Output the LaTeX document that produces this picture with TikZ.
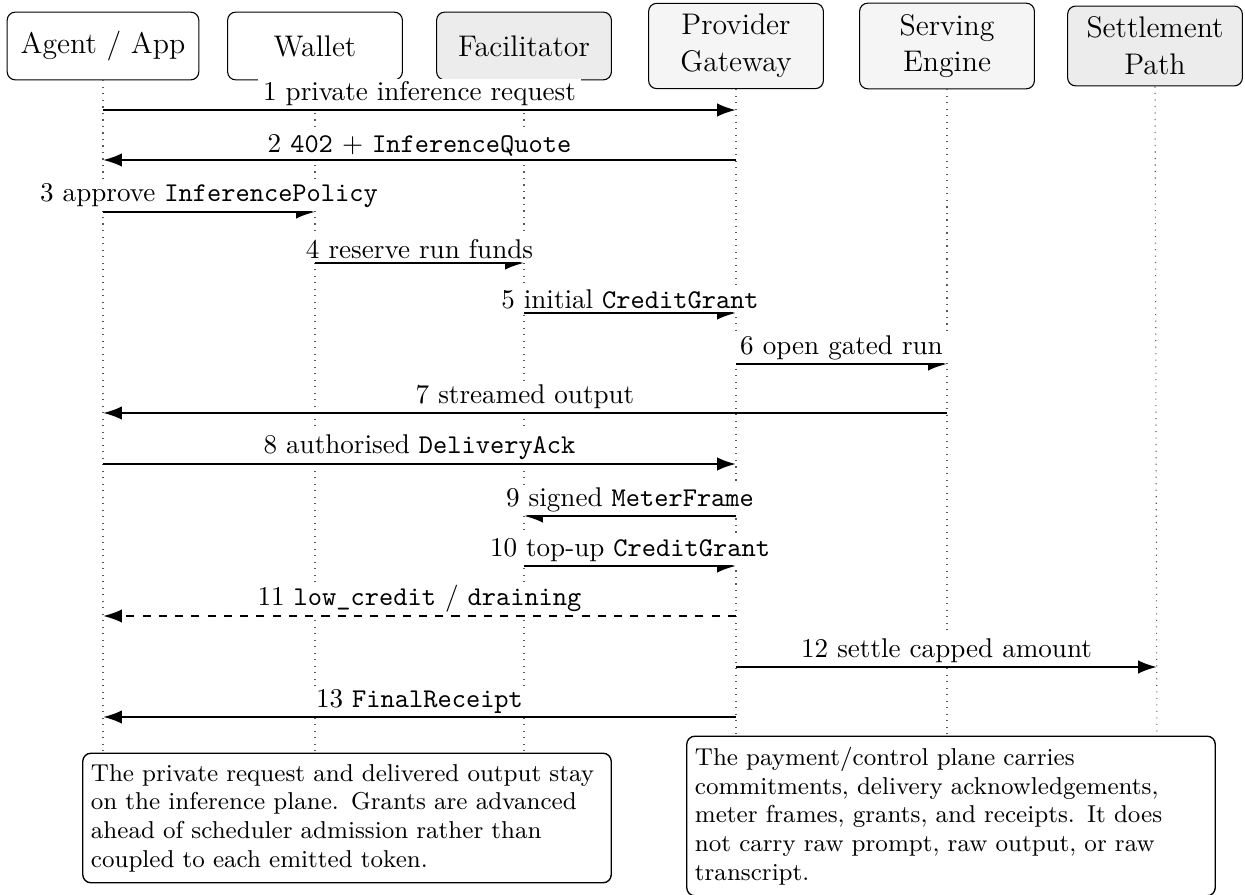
\documentclass[tikz,border=0pt]{standalone}
\usetikzlibrary{arrows.meta}
\begin{document}
\begin{tikzpicture}[x=0.369pt,y=-0.369pt,
  actor/.style={draw, rounded corners=3pt, minimum width=64.5pt, minimum height=25pt,
    inner xsep=5pt, inner ysep=4pt, align=center, font=\fontsize{11}{13.6}\selectfont},
  lifeline/.style={dotted, gray!70!black, line width=0.4pt},
  msg/.style={line width=0.9pt, -{Latex[length=7pt,width=5pt]}},
  dmsg/.style={msg, dashed},
  lbl/.style={fill=white, inner xsep=2pt, inner ysep=1pt, anchor=south, font=\normalsize},
  note/.style={draw, fill=white, rounded corners=3pt, align=left, text width=189pt,
    inner xsep=3pt, inner ysep=4pt, line width=0.5pt, font=\fontsize{9}{10.6}\selectfont}]
\useasboundingbox (0,0) rectangle (1245,895);

% participants
\node[actor, fill=white]   (agent) at (103,46)  {Agent / App};
\node[actor, fill=white]   (wallet) at (315,46) {Wallet};
\node[actor, fill=gray!15] (fac) at (524,46)    {Facilitator};
\node[actor, fill=gray!8]  (prov) at (736,46)   {Provider\\Gateway};
\node[actor, fill=gray!8]  (serv) at (947,46)   {Serving\\Engine};
\node[actor, fill=gray!15] (settle) at (1155,46) {Settlement\\Path};

% lifelines
\foreach \n/\x in {agent/103, wallet/315, fac/524, prov/736, serv/947, settle/1157}{
  \coordinate (\n-end) at (\x,770);
  \draw[lifeline] (\n.south) -- (\n-end);
}

% message rows
\foreach \n/\x in {agent/103, wallet/315, fac/524, prov/736, serv/947, settle/1157}{
  \foreach \k/\y in {1/110,2/160,3/212,4/263,5/313,6/364,7/413,8/464,9/516,10/566,11/616,12/667,13/717}{
    \coordinate (\n-\k) at (\x,\y);
  }
}

\draw[msg] (agent-1) -- (prov-1) node[lbl, midway] {1 private inference request};
\draw[msg] (prov-2) -- (agent-2) node[lbl, midway] {2 \texttt{402} + \texttt{InferenceQuote}};
\draw[msg] (agent-3) -- (wallet-3) node[lbl, midway] {3 approve \texttt{InferencePolicy}};
\draw[msg] (wallet-4) -- (fac-4) node[lbl, midway] {4 reserve run funds};
\draw[msg] (fac-5) -- (prov-5) node[lbl, midway] {5 initial \texttt{CreditGrant}};
\draw[msg] (prov-6) -- (serv-6) node[lbl, midway] {6 open gated run};
\draw[msg] (serv-7) -- (agent-7) node[lbl, midway] {7 streamed output};
\draw[msg] (agent-8) -- (prov-8) node[lbl, midway] {8 authorised \texttt{DeliveryAck}};
\draw[msg] (prov-9) -- (fac-9) node[lbl, midway] {9 signed \texttt{MeterFrame}};
\draw[msg] (fac-10) -- (prov-10) node[lbl, midway] {10 top-up \texttt{CreditGrant}};
\draw[dmsg] (prov-11) -- (agent-11) node[lbl, midway] {11 \texttt{low\_credit} / \texttt{draining}};
\draw[msg] (prov-12) -- (settle-12) node[lbl, midway] {12 settle capped amount};
\draw[msg] (prov-13) -- (agent-13) node[lbl, midway] {13 \texttt{FinalReceipt}};

% notes
\node[note] (n1) at (347,818) {The private request and delivered output stay\\
on the inference plane. Grants are advanced\\
ahead of scheduler admission rather than\\
coupled to each emitted token.};
\node[note] (n2) at (951,816) {The payment/control plane carries\\
commitments, delivery acknowledgements,\\
meter frames, grants, and receipts. It does\\
not carry raw prompt, raw output, or raw\\
transcript.};
\end{tikzpicture}
\end{document}
